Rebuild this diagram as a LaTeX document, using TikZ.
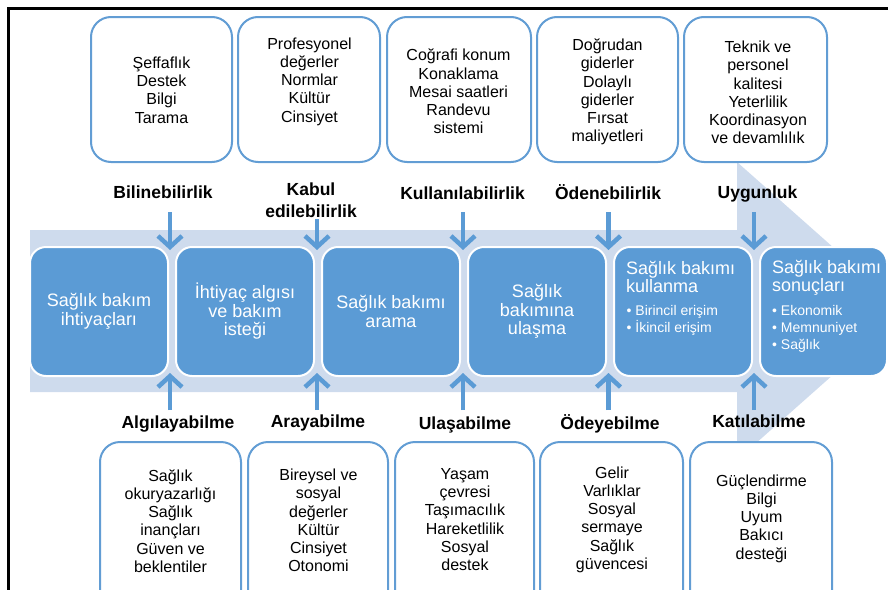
\documentclass[tikz,border=0pt]{standalone}
\usepackage{fontspec}
\setmainfont{Liberation Sans}
\usetikzlibrary{arrows.meta}
\definecolor{mblue}{RGB}{91,155,213}
\definecolor{lband}{RGB}{206,219,237}
\definecolor{bord}{RGB}{98,157,212}
\begin{document}
\begin{tikzpicture}[x=1pt,y=-1pt,
  outerbox/.style={draw=bord, line width=2pt, fill=white, rounded corners=20pt, inner sep=0pt},
  stagebox/.style={draw=white, line width=2pt, fill=mblue, rounded corners=16pt, text=white, align=center, font=\fontsize{18}{18.5}\selectfont, inner sep=0pt, minimum width=138pt, minimum height=129pt},
  boxtext/.style={align=center, font=\fontsize{16}{18.25}\selectfont, inner sep=0pt},
  titletext/.style={align=left, text=white, font=\fontsize{18}{18}\selectfont, inner sep=0pt, anchor=north west},
  listtext/.style={align=left, text=white, font=\fontsize{14}{17}\selectfont, inner sep=0pt, anchor=north west},
  lbl/.style={font=\fontsize{17.5}{21.5}\selectfont\bfseries, inner sep=0pt, align=center},
  flowarrow/.style={draw=mblue, line width=4.5pt, -{Straight Barb[length=11pt,width=24pt,line join=miter]}},
]
\useasboundingbox (0,0) rectangle (888,589);
\clip (0,0) rectangle (888,589);

% light background arrow
\fill[lband] (30,230) -- (737,230) -- (737,162) -- (905,311) -- (737,460) -- (737,392) -- (30,392) -- cycle;

% frame
\draw[black, line width=2.6pt] (8.5,600) -- (8.5,8.5) -- (900,8.5);

% top boxes
\node[outerbox, minimum width=141pt, minimum height=145pt] (t1) at (161.5,89.5) {};
\node[outerbox, minimum width=142pt, minimum height=145pt] (t2) at (309,89.5) {};
\node[outerbox, minimum width=144pt, minimum height=145pt] (t3) at (459,89.5) {};
\node[outerbox, minimum width=141pt, minimum height=145pt] (t4) at (607.5,89.5) {};
\node[outerbox, minimum width=143pt, minimum height=145pt] (t5) at (755.5,89.5) {};

\node[boxtext] (tt1) at (161.5,90) {Şeffaflık\\Destek\\Bilgi\\Tarama};
\node[boxtext] (tt2) at (309.5,81.5) {Profesyonel\\değerler\\Normlar\\Kültür\\Cinsiyet};
\node[boxtext] (tt3) at (458.5,91.5) {Coğrafi konum\\Konaklama\\Mesai saatleri\\Randevu\\sistemi};
\node[boxtext] (tt4) at (607.5,92) {Doğrudan\\giderler\\Dolaylı\\giderler\\Fırsat\\maliyetleri};
\node[boxtext] (tt5) at (758,92.5) {Teknik ve\\personel\\kalitesi\\Yeterlilik\\Koordinasyon\\ve devamlılık};

% bottom boxes
\node[outerbox, minimum width=141pt, minimum height=180pt] (b1) at (170.5,532) {};
\node[outerbox, minimum width=140pt, minimum height=180pt] (b2) at (318,532) {};
\node[outerbox, minimum width=139pt, minimum height=180pt] (b3) at (464.5,532) {};
\node[outerbox, minimum width=143pt, minimum height=180pt] (b4) at (611.5,532) {};
\node[outerbox, minimum width=142pt, minimum height=180pt] (b5) at (761,532) {};

\node[boxtext] (bt1) at (170.5,521) {Sağlık\\okuryazarlığı\\Sağlık\\inançları\\Güven ve\\beklentiler};
\node[boxtext] (bt2) at (318.5,520.5) {Bireysel ve\\sosyal\\değerler\\Kültür\\Cinsiyet\\Otonomi};
\node[boxtext] (bt3) at (465,519.5) {Yaşam\\çevresi\\Taşımacılık\\Hareketlilik\\Sosyal\\destek};
\node[boxtext] (bt4) at (612,519.5) {Gelir\\Varlıklar\\Sosyal\\sermaye\\Sağlık\\güvencesi};
\node[boxtext] (bt5) at (761.5,518.5) {Güçlendirme\\Bilgi\\Uyum\\Bakıcı\\desteği};

% stage boxes
\node[stagebox] (s1) at (99,311.5) {Sağlık bakım\\ihtiyaçları};
\node[stagebox] (s2) at (245,311.5) {İhtiyaç algısı\\ve bakım\\isteği};
\node[stagebox] (s3) at (391,311.5) {Sağlık bakımı\\arama};
\node[stagebox] (s4) at (537,311.5) {Sağlık\\bakımına\\ulaşma};
\node[stagebox] (s5) at (683,311.5) {};
\node[stagebox, minimum width=127pt] (s6) at (823.5,311.5) {};

\node[titletext] (s5title) at (626,261) {Sağlık bakımı\\kullanma};
\node[listtext] (s5list) at (626.5,305) {• Birincil erişim\\• İkincil erişim};
\node[titletext] (s6title) at (772,260) {Sağlık bakımı\\sonuçları};
\node[listtext] (s6list) at (772,305) {• Ekonomik\\• Memnuniyet\\• Sağlık};

% top labels
\node[lbl, anchor=base] (l1) at (163,198.5) {Bilinebilirlik};
\node[lbl] (l2) at (311,200) {Kabul\\edilebilirlik};
\node[lbl, anchor=base] (l3) at (462.5,199.5) {Kullanılabilirlik};
\node[lbl, anchor=base] (l4) at (608,199.5) {Ödenebilirlik};
\node[lbl, anchor=base] (l5) at (757.5,198.5) {Uygunluk};

% bottom labels
\node[lbl, anchor=base] (m1) at (178,428) {Algılayabilme};
\node[lbl, anchor=base] (m2) at (318,427.5) {Arayabilme};
\node[lbl, anchor=base] (m3) at (465,429) {Ulaşabilme};
\node[lbl, anchor=base] (m4) at (610,429) {Ödeyebilme};
\node[lbl, anchor=base] (m5) at (759,427.5) {Katılabilme};

% arrow coordinates
\coordinate (a1s) at (170,212); \coordinate (a1e) at (170,250);
\coordinate (a2s) at (317,219); \coordinate (a2e) at (317,250);
\coordinate (a3s) at (463,212); \coordinate (a3e) at (463,250);
\coordinate (a4s) at (608.5,212); \coordinate (a4e) at (608.5,250);
\coordinate (a5s) at (754,212); \coordinate (a5e) at (754,250);

\coordinate (c1s) at (170,410); \coordinate (c1e) at (170,373);
\coordinate (c2s) at (317,410); \coordinate (c2e) at (317,373);
\coordinate (c3s) at (463,410); \coordinate (c3e) at (463,373);
\coordinate (c4s) at (608.5,410); \coordinate (c4e) at (608.5,373);
\coordinate (c5s) at (754,410); \coordinate (c5e) at (754,373);

\foreach \i in {1,...,5} {
  \draw[flowarrow] (a\i s) -- (a\i e);
  \draw[flowarrow] (c\i s) -- (c\i e);
}
\end{tikzpicture}
\end{document}
